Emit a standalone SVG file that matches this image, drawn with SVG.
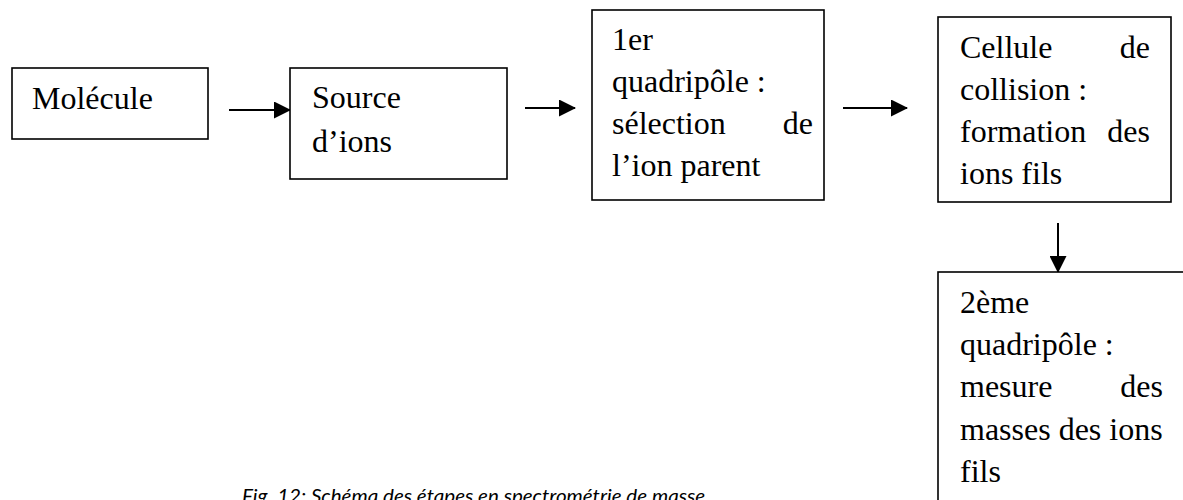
<svg xmlns="http://www.w3.org/2000/svg" width="1183" height="500" viewBox="0 0 1183 500">
<defs>
<marker id="ah" markerWidth="17" markerHeight="17" refX="16" refY="8.5" orient="auto" markerUnits="userSpaceOnUse" viewBox="0 0 17 17">
<path d="M0,0 L17,8.5 L0,17 Z" fill="#000"/>
</marker>
<style>
.box{fill:#fff;stroke:#000;stroke-width:1.6}
.t{font-size:32px;fill:#000}
.e{text-anchor:end}
.conn{stroke:#000;stroke-width:2;fill:none}
.cap{font-style:italic;font-size:20px;fill:#000}
</style>
</defs>
<rect width="1183" height="500" fill="#fff"/>
<g id="connectors">
<path class="conn" d="M229,110 H290" marker-end="url(#ah)"/>
<path class="conn" d="M525,108 H575" marker-end="url(#ah)"/>
<path class="conn" d="M843,108 H907" marker-end="url(#ah)"/>
<path class="conn" d="M1058,223 V272" marker-end="url(#ah)"/>
</g>
<g font-family="'Liberation Serif', 'Times New Roman', Tinos, serif">
<g id="molecule">
<rect class="box" x="12" y="68" width="196" height="71"/>
<text class="t" x="32" y="109">Molécule</text>
</g>
<g id="source">
<rect class="box" x="290" y="68" width="217" height="111"/>
<text class="t" x="312" y="108">Source</text>
<text class="t" x="312" y="152">d’ions</text>
</g>
<g id="quad1">
<rect class="box" x="592" y="10" width="232" height="190"/>
<text class="t" x="612" y="50">1er</text>
<text class="t" x="612" y="92">quadripôle :</text>
<text class="t" x="612" y="134">sélection</text>
<text class="t e" x="813" y="134">de</text>
<text class="t" x="612" y="176">l’ion parent</text>
</g>
<g id="cellule">
<rect class="box" x="938" y="17" width="233" height="185"/>
<text class="t" x="960" y="58">Cellule</text>
<text class="t e" x="1150" y="58">de</text>
<text class="t" x="960" y="100">collision :</text>
<text class="t" x="960" y="142">formation</text>
<text class="t e" x="1150" y="142">des</text>
<text class="t" x="960" y="184">ions fils</text>
</g>
<g id="quad2">
<rect class="box" x="938" y="272" width="260" height="260"/>
<text class="t" x="960" y="313">2ème</text>
<text class="t" x="960" y="355">quadripôle :</text>
<text class="t" x="960" y="397">mesure</text>
<text class="t e" x="1163" y="397">des</text>
<text class="t" x="960" y="440">masses des ions</text>
<text class="t" x="960" y="482">fils</text>
</g>
</g>
<text class="cap" font-family="Lato, 'Open Sans', sans-serif" x="242" y="503" textLength="463" lengthAdjust="spacingAndGlyphs">Fig. 12: Schéma des étapes en spectrométrie de masse</text>
</svg>
